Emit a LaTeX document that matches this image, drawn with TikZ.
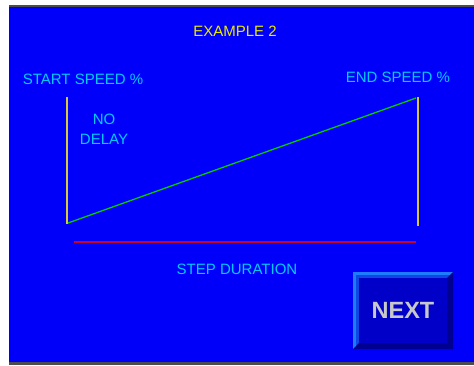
\documentclass[tikz,border=0pt]{standalone}
\usepackage{fontspec}
\setmainfont{Liberation Sans}
\usepackage{xcolor}
\usetikzlibrary{positioning}

\definecolor{panelblue}{RGB}{0,0,250}
\definecolor{labelcyan}{RGB}{0,205,255}
\definecolor{titleyellow}{RGB}{235,235,0}
\definecolor{axisyellow}{RGB}{215,200,60}
\definecolor{rampgreen}{RGB}{0,205,0}
\definecolor{baseRed}{RGB}{200,0,45}
\definecolor{btnface}{RGB}{0,0,200}
\definecolor{btnlight}{RGB}{30,125,255}
\definecolor{btnmid}{RGB}{15,70,230}
\definecolor{btndark}{RGB}{0,0,145}
\definecolor{btntext}{RGB}{200,200,200}

\begin{document}
\begin{tikzpicture}[
    x=1pt, y=-1pt,
    label/.style={text=labelcyan, font=\fontsize{15}{17}\selectfont, inner sep=0pt},
    title/.style={text=titleyellow, font=\fontsize{15}{17}\selectfont, inner sep=0pt},
    axis/.style={draw=axisyellow, line width=1.3pt},
    button/.style={text=btntext, font=\fontsize{23.5}{26}\selectfont\bfseries, inner sep=0pt},
]

% Frame and background
\useasboundingbox (0,0) rectangle (474,365);
\fill[white] (0,0) rectangle (474,365);
\fill[panelblue] (9,6) rectangle (474,362);
\fill[black!70] (9,5) rectangle (474,7);
\fill[black!70] (9,361.5) rectangle (474,365);

% Texts
\node[title] (title) at (235,31) {EXAMPLE 2};
\node[label] (start) at (83,79) {START SPEED \%};
\node[label] (end) at (398,77) {END SPEED \%};
\node[label, align=center] (delay) at (104,129) {NO\\[3pt]DELAY};
\node[label] (duration) at (237,269) {STEP DURATION};

% Graph points
\coordinate (sTop) at (67,97);
\coordinate (sBot) at (67,224);
\coordinate (eTop) at (418,97);
\coordinate (eBot) at (418,226);
\coordinate (rStart) at (68,223);
\coordinate (rEnd) at (416,98);
\coordinate (dLeft) at (74,242);
\coordinate (dRight) at (416,242);

% Lines
\draw[axis] (sTop) -- (sBot);
\draw[axis] (eTop) -- (eBot);
\draw[rampgreen, line width=1.3pt] (rStart) -- (rEnd);
\draw[baseRed, line width=1.4pt] (dLeft) -- (dRight);

% NEXT button
\fill[btnlight] (353,272) rectangle (453,349);
\fill[btnmid] (356,275) rectangle (453,349);
\fill[btndark] (453,272) -- (453,349) -- (353,349) -- (359,343) -- (447,343) -- (447,278) -- cycle;
\fill[btnface] (359,278) rectangle (447,343);
\node[button] (next) at (403,310.5) {NEXT};

\end{tikzpicture}
\end{document}
